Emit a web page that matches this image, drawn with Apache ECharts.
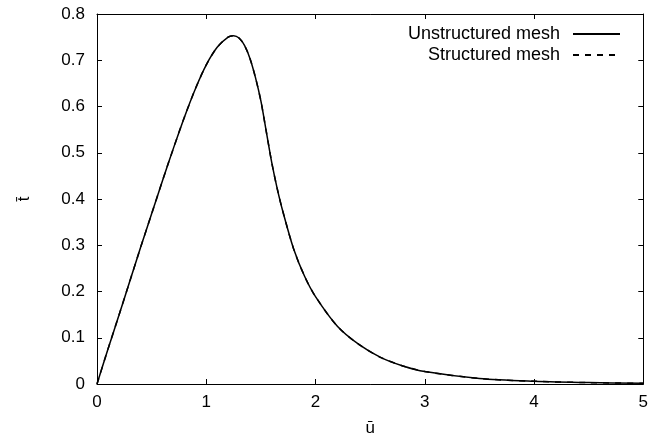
<!DOCTYPE html>
<html>
<head>
<meta charset="utf-8">
<script src="https://cdn.jsdelivr.net/npm/echarts@6/dist/echarts.min.js"></script>
<style>html,body{margin:0;padding:0;background:#fff}#c{width:651px;height:445px}</style>
</head>
<body>
<div id="c"></div>
<script>
const uBar = [0, 0.1, 0.2, 0.3, 0.4, 0.5, 0.6, 0.7, 0.8, 0.9, 1.0, 1.1, 1.2, 1.25, 1.3, 1.35, 1.4, 1.45, 1.5, 1.55, 1.6, 1.65, 1.7, 1.8, 1.9, 2.0, 2.2, 2.4, 2.6, 2.8, 3.0, 3.5, 4.0, 4.5, 5.0];
const unstructured = [0, 0.075, 0.148, 0.222, 0.296, 0.368, 0.44, 0.51, 0.577, 0.638, 0.69, 0.728, 0.75, 0.753, 0.748, 0.732, 0.704, 0.663, 0.612, 0.545, 0.478, 0.422, 0.374, 0.292, 0.233, 0.189, 0.125, 0.085, 0.057, 0.039, 0.027, 0.012, 0.006, 0.003, 0.0015];
const structured = [0, 0.075, 0.148, 0.222, 0.296, 0.368, 0.44, 0.51, 0.577, 0.638, 0.69, 0.728, 0.75, 0.753, 0.748, 0.732, 0.704, 0.663, 0.612, 0.545, 0.478, 0.422, 0.374, 0.292, 0.233, 0.189, 0.125, 0.085, 0.057, 0.039, 0.027, 0.012, 0.006, 0.003, 0.0015];
const seriesNames = ['Unstructured mesh', 'Structured mesh'];
const xTitle = 'u\u0304';
const yTitle = 't\u0304';

const font = 'Liberation Sans, Arial, sans-serif';
const chart = echarts.init(document.getElementById('c'), null, {renderer: 'canvas'});
const axisCommon = {
  axisLine: {show: true, onZero: false, lineStyle: {color: '#000', width: 1}},
  axisTick: {show: true, inside: true, length: 5, lineStyle: {color: '#000'}},
  splitLine: {show: false}
};
chart.setOption({
  animation: false,
  backgroundColor: '#fff',
  grid: {left: 97, right: 6, top: 14, bottom: 61, containLabel: false},
  legend: {
    orient: 'vertical', right: 25, top: 20, align: 'right',
    itemWidth: 47, itemHeight: 10, itemGap: 3,
    itemStyle: {opacity: 0, borderWidth: 0},
    textStyle: {fontFamily: font, fontSize: 18, color: '#000', padding: [0, 8, 0, 0]},
    data: seriesNames
  },
  xAxis: [
    Object.assign({type: 'value', min: 0, max: 5, interval: 1, position: 'bottom',
      name: xTitle, nameLocation: 'middle', nameGap: 36,
      nameTextStyle: {fontFamily: font, fontSize: 17, color: '#000'},
      axisLabel: {fontFamily: font, fontSize: 17, color: '#000', margin: 10}}, axisCommon),
    Object.assign({type: 'value', min: 0, max: 5, interval: 1, position: 'top',
      axisLabel: {show: false}}, axisCommon)
  ],
  yAxis: [
    Object.assign({type: 'value', min: 0, max: 0.8, interval: 0.1, position: 'left',
      name: yTitle, nameLocation: 'middle', nameGap: 64, nameRotate: 90,
      nameTextStyle: {fontFamily: font, fontSize: 17, color: '#000'},
      axisLabel: {fontFamily: font, fontSize: 17, color: '#000', margin: 12,
        formatter: v => (Math.round(v * 10) / 10).toString()}}, axisCommon),
    Object.assign({type: 'value', min: 0, max: 0.8, interval: 0.1, position: 'right',
      axisLabel: {show: false}}, axisCommon)
  ],
  series: [
    {name: seriesNames[0], type: 'line', showSymbol: false, symbol: 'none', smooth: 0.3,
     data: uBar.map((x, i) => [x, unstructured[i]]),
     lineStyle: {color: '#000', width: 1.5, type: 'solid'}, itemStyle: {color: '#000'}},
    {name: seriesNames[1], type: 'line', showSymbol: false, symbol: 'none', smooth: 0.3,
     data: uBar.map((x, i) => [x, structured[i]]),
     lineStyle: {color: '#000', width: 1.5, type: [6, 6]}, itemStyle: {color: '#000'}}
  ]
});
</script>
</body>
</html>
